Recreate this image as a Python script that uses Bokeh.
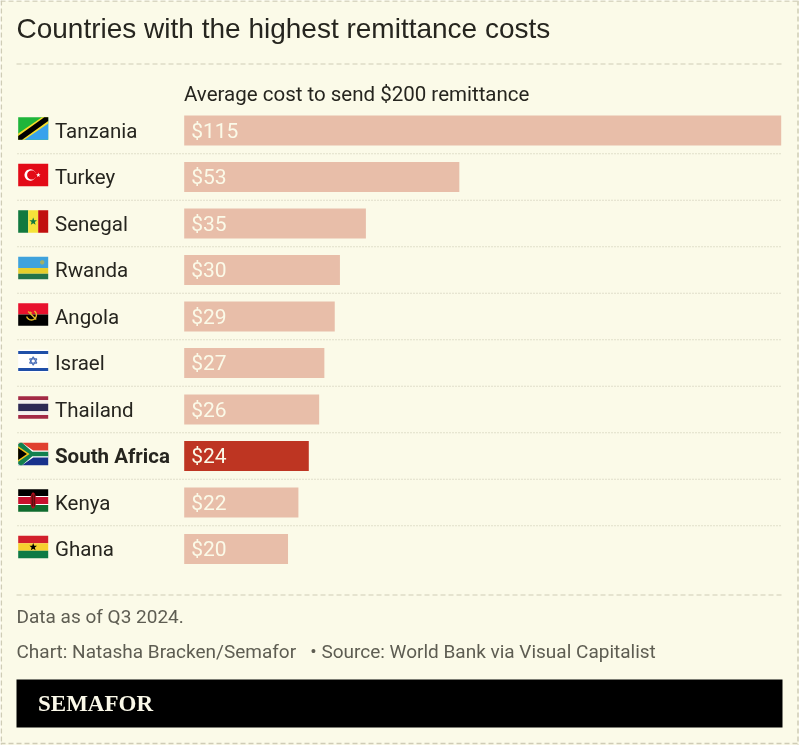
import numpy as np
from bokeh.core.properties import value
from bokeh.embed import file_html
from bokeh.models import ColumnDataSource, Label, Range1d
from bokeh.plotting import figure
from bokeh.resources import INLINE

countries = ["Tanzania", "Turkey", "Senegal", "Rwanda", "Angola", "Israel", "Thailand", "South Africa", "Kenya", "Ghana"]
costs = [115, 53, 35, 30, 29, 27, 26, 24, 22, 20]
highlight = "South Africa"
title_text = "Countries with the highest remittance costs"
subtitle_text = "Average cost to send $200 remittance"
note_text = "Data as of Q3 2024."
credit_text = "Chart: Natasha Bracken/Semafor\u00a0\u00a0\u00a0• Source: World Bank via Visual Capitalist"
brand_text = "SEMAFOR"

W, H = 799, 745
BG = "#FBFAE8"
PINK = "#E8BEA9"
RED = "#BE3522"
INK = "#26251F"
GREY = "#5E5D52"
DASH = "#CFCCB6"
FONT = "Roboto"

ROW_PX = 46.5
ROW0_PX = 130.0
PX_PER_USD = 597 / 115
X0_PX = 183.7

p = figure(width=W, height=H, output_backend="svg", toolbar_location=None,
           x_range=Range1d(-X0_PX / PX_PER_USD, (W - X0_PX) / PX_PER_USD),
           y_range=Range1d((H - ROW0_PX) / ROW_PX, -ROW0_PX / ROW_PX),
           min_border=0, min_border_left=0, min_border_right=0, min_border_top=0, min_border_bottom=0,
           background_fill_color=BG, border_fill_color=BG, outline_line_color=None)
p.axis.visible = False
p.grid.visible = False
p.extra_x_ranges["px"] = Range1d(0, W)
p.extra_y_ranges["px"] = Range1d(H, 0)
p.styles = {"position": "fixed", "left": "0px", "top": "0px"}

idx = list(range(len(countries)))
src = ColumnDataSource(dict(
    y=idx, cost=costs, name=countries,
    fill=[RED if c == highlight else PINK for c in countries],
    label=[f"${c}" for c in costs],
))

PX = dict(x_range_name="px", y_range_name="px")


def hline_px(x0, x1, y, color=DASH, width=1, dash="5 3"):
    p.segment([x0], [y], [x1], [y], line_color=color, line_width=width, line_dash=dash, **PX)


def vline_px(x, y0, y1, color=DASH, width=1, dash="5 3"):
    p.segment([x], [y0], [x], [y1], line_color=color, line_width=width, line_dash=dash, **PX)


# outer dashed frame and separators
hline_px(0, W, 0.5, width=1.5)
hline_px(0, W, 743, width=1.5)
vline_px(0.8, 0, H, width=1.5)
vline_px(797.5, 0, H, width=1.5)
hline_px(16, 783, 63.5)
hline_px(16, 783, 594.5)

# row rules
seps = [i + 0.5 for i in idx[:-1]]
p.segment([17] * len(seps), seps, [781] * len(seps), seps, x_range_name="px",
          line_color="#C6C3AC", line_width=1, line_dash="1 2")

# bars
p.hbar(y="y", left=0, right="cost", height=30 / ROW_PX, fill_color="fill", line_color=None, source=src)

# value labels
p.text(x=1.35, y="y", text="label", source=src, text_color=BG, text_font=value(FONT),
       text_font_size="21px", text_baseline="middle", text_align="left")

# country names
plain = ColumnDataSource(dict(y=[i for i in idx if countries[i] != highlight],
                              name=[c for c in countries if c != highlight],
                              x=[54.5] * (len(countries) - 1)))
bold = ColumnDataSource(dict(y=[countries.index(highlight)], name=[highlight], x=[54.5]))
p.text(x="x", y="y", text="name", source=plain, x_range_name="px", text_color=INK, text_font=value(FONT),
       text_font_size="20.5px", text_baseline="middle")
p.text(x="x", y="y", text="name", source=bold, x_range_name="px", text_color=INK, text_font=value(FONT),
       text_font_size="20.5px", text_font_style="bold", text_baseline="middle")


def lab(text, x, y, size, color=INK, font=FONT, style="normal"):
    p.add_layout(Label(x=x, y=H - y, x_units="screen", y_units="screen", text=text, text_color=color,
                       text_font=font, text_font_size=size, text_font_style=style, text_baseline="middle"))


# banner
p.quad(left=[16], right=[782], top=[679], bottom=[727], fill_color="#000000", line_color=None, **PX)

lab(title_text, 16, 27.5, "28px", font="Liberation Sans")
lab(subtitle_text, 183.5, 93.5, "20.5px")
lab(note_text, 16, 615.5, "19px", color=GREY)
lab(credit_text, 16, 650.5, "19px", color=GREY)
lab(brand_text, 37.5, 702.5, "23px", color="#FBF9E9", font="Liberation Serif", style="bold")


# --- flags, drawn in a 30 x 22.6 px cell ---
FX, FW, FH = 17.7, 30, 22.6


def poly(cy, pts, color):
    xs = [FX + a * FW for a, b in pts]
    ys = [cy - FH / 2 + b * FH for a, b in pts]
    p.patch(xs, ys, fill_color=color, line_color=None, **PX)


def box(cy, x0, y0, x1, y1, color):
    poly(cy, [(x0, y0), (x1, y0), (x1, y1), (x0, y1)], color)


def disc(cy, cx, cyy, r, color):
    t = np.linspace(0, 2 * np.pi, 40)
    xs = FX + cx * FW + r * np.cos(t)
    ys = cy - FH / 2 + cyy * FH + r * np.sin(t)
    p.patch(list(xs), list(ys), fill_color=color, line_color=None, **PX)


def star(cy, cx, cyy, r, color):
    a = np.arange(10) * np.pi / 5 - np.pi / 2
    rr = np.where(np.arange(10) % 2 == 0, r, r * 0.42)
    xs = FX + cx * FW + rr * np.cos(a)
    ys = cy - FH / 2 + cyy * FH + rr * np.sin(a)
    p.patch(list(xs), list(ys), fill_color=color, line_color=None, **PX)


def stripes(cy, spec):
    total = sum(w for w, _ in spec)
    y = 0
    for w, c in spec:
        box(cy, 0, y / total, 1, (y + w) / total, c)
        y += w


def f_tanzania(cy):
    box(cy, 0, 0, 1, 1, "#1EB53A")
    poly(cy, [(1, 0), (1, 1), (0, 1)], "#38A2EC")
    poly(cy, [(0, 1), (0, 0.72), (0.79, 0), (1, 0), (1, 0.28), (0.21, 1)], "#F5DC2A")
    poly(cy, [(0, 1), (0, 0.83), (0.87, 0), (1, 0), (1, 0.17), (0.13, 1)], "#000000")


def f_turkey(cy):
    box(cy, 0, 0, 1, 1, "#E30A17")
    disc(cy, 0.40, 0.5, 5.7, "#FFFFFF")
    disc(cy, 0.45, 0.5, 4.6, "#E30A17")
    star(cy, 0.67, 0.5, 2.4, "#FFFFFF")


def f_senegal(cy):
    box(cy, 0, 0, 1 / 3, 1, "#12793F")
    box(cy, 1 / 3, 0, 2 / 3, 1, "#F5E33A")
    box(cy, 2 / 3, 0, 1, 1, "#C1100F")
    star(cy, 0.5, 0.5, 4, "#12793F")


def f_rwanda(cy):
    stripes(cy, [(2, "#3FA2DC"), (1, "#E6CE2C"), (1, "#23734A")])
    disc(cy, 0.8, 0.25, 2.2, "#9DB06A")


def f_angola(cy):
    stripes(cy, [(1, "#E8112D"), (1, "#000000")])
    t = np.linspace(-0.3 * np.pi, 0.9 * np.pi, 16)
    xs = FX + 0.44 * FW + 5 * np.cos(t)
    ys = cy + 0.5 + 5 * np.sin(t)
    p.line(list(xs), list(ys), line_color="#E2B92C", line_width=1.4, **PX)
    p.line([FX + 10, FX + 18], [cy - 3, cy + 5], line_color="#E2B92C", line_width=1.4, **PX)
    star(cy, 0.42, 0.42, 1.6, "#E2B92C")


def f_israel(cy):
    box(cy, 0, 0, 1, 1, "#FFFFFF")
    box(cy, 0, 0.06, 1, 0.19, "#1F4FA8")
    box(cy, 0, 0.81, 1, 0.94, "#1F4FA8")
    cx, cyy = FX + 15, cy
    for rot in (-np.pi / 2, np.pi / 2):
        a = rot + np.array([0, 2, 4, 0]) * np.pi / 3
        p.line(list(cx + 4.2 * np.cos(a)), list(cyy + 4.2 * np.sin(a)), line_color="#4A6FB8", line_width=1.1, **PX)


def f_thailand(cy):
    stripes(cy, [(1, "#A32A45"), (1, "#F4F1EE"), (2, "#2D2A55"), (1, "#F4F1EE"), (1, "#A32A45")])


def f_south_africa(cy):
    box(cy, 0, 0, 1, 0.5, "#E0402F")
    box(cy, 0, 0.5, 1, 1, "#18318C")
    poly(cy, [(0, 0), (0.13, 0), (0.5, 0.34), (1, 0.34), (1, 0.66), (0.5, 0.66), (0.13, 1), (0, 1)], "#FFFFFF")
    poly(cy, [(0, 0.06), (0.06, 0), (0.13, 0), (0.47, 0.40), (1, 0.40), (1, 0.60), (0.47, 0.60), (0.13, 1), (0.06, 1), (0, 0.94)], "#12804F")
    poly(cy, [(0, 0.16), (0.38, 0.5), (0, 0.84)], "#F5C518")
    poly(cy, [(0, 0.24), (0.29, 0.5), (0, 0.76)], "#000000")


def f_kenya(cy):
    stripes(cy, [(6, "#000000"), (1, "#FFFFFF"), (6, "#C8102E"), (1, "#FFFFFF"), (6, "#0F6B2E")])
    t = np.linspace(0, 2 * np.pi, 30)
    p.patch(list(FX + 15 + 3 * np.cos(t)), list(cy + 8 * np.sin(t)), fill_color="#B5101F", line_color=None, **PX)
    p.segment([FX + 14, FX + 16], [cy - 6, cy - 6], [FX + 14, FX + 16], [cy + 6, cy + 6], line_color="#3A0A0A", line_width=1, **PX)


def f_ghana(cy):
    stripes(cy, [(1, "#D21F2B"), (1, "#F7D02E"), (1, "#0E7A45")])
    star(cy, 0.5, 0.5, 4, "#000000")


flag_fns = [f_tanzania, f_turkey, f_senegal, f_rwanda, f_angola, f_israel, f_thailand, f_south_africa, f_kenya, f_ghana]
for i, fn in zip(idx, flag_fns):
    fn(ROW0_PX + ROW_PX * i - 2)

open("out.html", "w").write(file_html(p, INLINE))
